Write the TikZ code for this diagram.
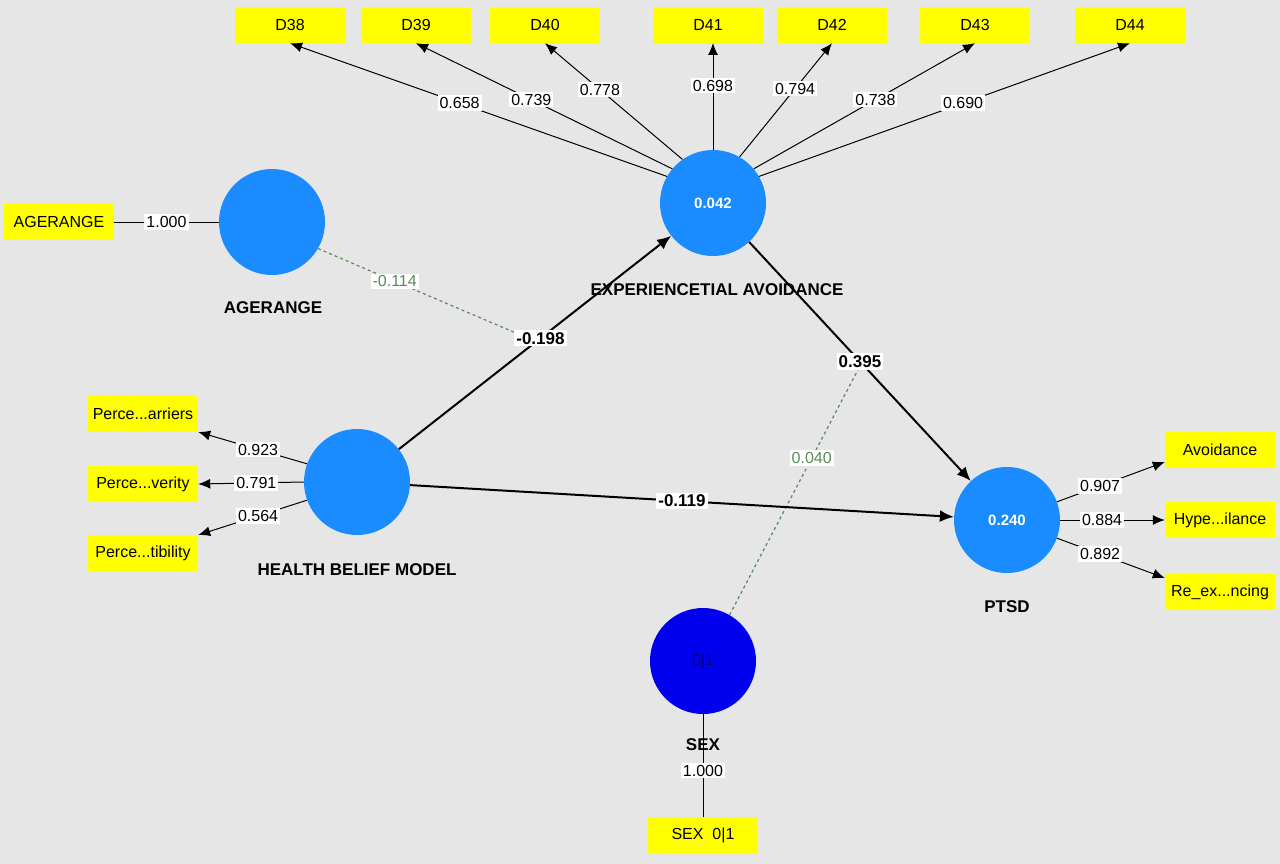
\documentclass[tikz,border=0pt]{standalone}
\usepackage{fontspec}
\setmainfont{Liberation Sans}
\usetikzlibrary{arrows.meta}
\definecolor{bg}{HTML}{E6E6E6}
\definecolor{lv}{HTML}{1A8CFF}
\definecolor{sexc}{HTML}{0000EE}
\definecolor{yel}{HTML}{FFFF00}
\definecolor{grn}{HTML}{5A8A5A}
\tikzset{
  lat/.style={circle,fill=lv,minimum size=106pt,inner sep=0pt,text=white,font=\fontsize{15}{17}\selectfont\bfseries},
  ind/.style={fill=yel,minimum width=110pt,minimum height=36pt,inner sep=1pt,font=\fontsize{16}{18}\selectfont},
  lab/.style={font=\fontsize{17}{19}\selectfont\bfseries},
  num/.style={fill=white,inner sep=2pt,font=\fontsize{16}{18}\selectfont},
  bnum/.style={fill=white,inner sep=2pt,font=\fontsize{17}{19}\selectfont\bfseries},
  gnum/.style={fill=white,inner sep=2pt,text=grn,font=\fontsize{16}{18}\selectfont},
  ld/.style={-{Latex[length=12pt,width=10pt]},line width=1pt},
  st/.style={-{Latex[length=14pt,width=12pt]},line width=2pt},
  md/.style={dashed,draw=grn,line width=1.2pt},
}
\begin{document}
\begin{tikzpicture}[x=1pt,y=-1pt]
\fill[bg] (0,0) rectangle (1280,864);
\useasboundingbox (0,0) rectangle (1280,864);
% latent
\node[lat] (ea) at (713,203) {0.042};
\node[lat] (age) at (272,222) {};
\node[lat] (hbm) at (357,482) {};
\node[lat] (ptsd) at (1007,520) {0.240};
\node[lat,fill=sexc,text=sexc!50!black,font=\fontsize{16}{18}\selectfont] (sex) at (703,661) {0|1};
% labels
\node[lab] at (273,308) {AGERANGE};
\node[lab] at (717,290) {EXPERIENCETIAL AVOIDANCE};
\node[lab] at (357,570) {HEALTH BELIEF MODEL};
\node[lab] at (1007,607) {PTSD};
\node[lab] at (703,745) {SEX};
% indicators
\node[ind] (d38) at (290,25) {D38};
\node[ind] (d39) at (416,25) {D39};
\node[ind] (d40) at (545,25) {D40};
\node[ind] (d41) at (708,25) {D41};
\node[ind] (d42) at (832,25) {D42};
\node[ind] (d43) at (975,25) {D43};
\node[ind] (d44) at (1130,25) {D44};
\node[ind] (agei) at (59,222) {AGERANGE};
\node[ind] (p1) at (143,414) {Perce...arriers};
\node[ind] (p2) at (143,484) {Perce...verity};
\node[ind] (p3) at (143,553) {Perce...tibility};
\node[ind] (a1) at (1220,450) {Avoidance};
\node[ind] (a2) at (1220,520) {Hype...ilance};
\node[ind] (a3) at (1220,592) {Re\_ex...ncing};
\node[ind] (sexi) at (703,835) {SEX\ \ 0|1};
% outer loadings EA
\draw[ld] (ea.150) -- (d38.south) node[num,pos=0.55] {0.658};
\draw[ld] (ea.140) -- (d39.south) node[num,pos=0.55] {0.739};
\draw[ld] (ea.125) -- (d40.south) node[num,pos=0.6] {0.778};
\draw[ld] (ea.north) -- (713,43) node[num,pos=0.6] {0.698};
\draw[ld] (ea.60) -- (d42.south) node[num,pos=0.6] {0.794};
\draw[ld] (ea.40) -- (d43.south) node[num,pos=0.55] {0.738};
\draw[ld] (ea.30) -- (d44.south) node[num,pos=0.55] {0.690};
% age
\draw[line width=1pt] (agei) -- (age) node[num,pos=0.5] {1.000};
% hbm loadings
\draw[ld] (hbm.160) -- (p1.east|-0,432) node[num,pos=0.45] {0.923};
\draw[ld] (hbm.west) -- (p2.east) node[num,pos=0.45] {0.791};
\draw[ld] (hbm.200) -- (p3.east|-0,535) node[num,pos=0.45] {0.564};
% ptsd loadings
\draw[ld] (ptsd.20) -- (a1.west|-0,462) node[num,pos=0.4] {0.907};
\draw[ld] (ptsd.east) -- (a2.west) node[num,pos=0.4] {0.884};
\draw[ld] (ptsd.-20) -- (a3.west|-0,578) node[num,pos=0.4] {0.892};
% sex
\draw[line width=1pt] (sex) -- (sexi) node[num,pos=0.55] {1.000};
% moderation
\coordinate (m1) at (537,342);
\coordinate (m2) at (862,362);
\draw[md] (age.-30) -- (m1) node[gnum,pos=0.35] {-0.114};
\draw[md] (sex.60) -- (m2) node[gnum,pos=0.62] {0.040};
% structural
\draw[st] (hbm) -- (ea) node[bnum,pos=0.52] {-0.198};
\draw[st] (ea) -- (ptsd) node[bnum,pos=0.5] {0.395};
\draw[st] (hbm) -- (ptsd) node[bnum,pos=0.5] {-0.119};
\end{tikzpicture}
\end{document}
